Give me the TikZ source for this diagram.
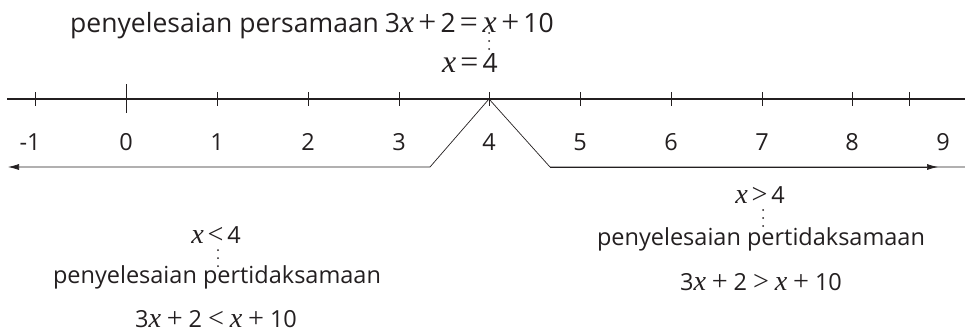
\documentclass[tikz,border=0pt]{standalone}
\usepackage{fontspec}
\setmainfont{Open Sans}
\newfontfamily\xserif[Scale=1.2]{Liberation Serif}
\newcommand{\vx}{{\xserif\itshape x}}
\newcommand{\op}[1]{\kern0.25em{\xserif #1}\kern0.25em}
\newcommand{\topop}[1]{\kern0.16em{\xserif #1}\kern0.16em}
\usetikzlibrary{arrows.meta, positioning, calc}
\definecolor{ink}{HTML}{231F20}
\tikzset{
  axis/.style={line width=1.9pt, ink},
  smalltick/.style={line width=0.6pt, ink},
  bigtick/.style={line width=1pt, ink},
  ray/.style={-{Latex[length=11pt,width=6pt]}, line width=0.7pt, ink},
  thin/.style={line width=0.7pt, ink},
  txt/.style={font=\fontsize{23.5}{28}\selectfont, text=ink, inner sep=0pt, anchor=base},
  bigtxt/.style={font=\fontsize{26.5}{32}\selectfont, text=ink, inner sep=0pt},
  num/.style={font=\fontsize{23.5}{28}\selectfont, text=ink, inner sep=0pt, anchor=base},
  dots/.style={dash pattern=on 0pt off 8pt, line cap=round, line width=2pt, ink}
}

\begin{document}
\begin{tikzpicture}[x=1pt, y=-1pt]
    \useasboundingbox (0,0) rectangle (965,333);

    % number line
    \coordinate (lineL) at (7,99);
    \coordinate (lineR) at (965,99);
    \draw[axis] (lineL) -- (lineR);
    \foreach \n/\xt/\xl in {-1/35/30, 1/217/217, 2/308/308, 3/399/399, 4/489/489,
                            5/580/580, 6/671/671, 7/762/762, 8/852/852, 9/909/943} {
        \coordinate (t\n) at (\xt,99);
        \draw[smalltick] (\xt,92) -- (\xt,106);
        \node[num] (n\n) at (\xl,150) {\n};
    }
    \coordinate (t0) at (126,99);
    \draw[bigtick] (126,84) -- (126,113);
    \node[num] (n0) at (126,150) {0};

    % solution rays
    \coordinate (kneeL) at (430,167);
    \coordinate (endL) at (8,167);
    \coordinate (kneeR) at (550,167);
    \coordinate (endR) at (938,167);
    \coordinate (edgeR) at (965,167);
    \draw[ray] (t4) -- (kneeL) -- (endL);
    \draw[thin] (t4) -- (kneeR) -- (edgeR);
    \draw[ray] (kneeR) -- (endR);

    % equation
    \node[bigtxt, anchor=base west] (pers) at (70,32) {penyelesaian persamaan\kern0.22em 3\vx\topop{+}2\topop{=}};
    \node[bigtxt, base right=0pt of pers] (xeq) {\vx};
    \node[bigtxt, base right=0pt of xeq] (rhs) {\topop{+}10};
    \node[bigtxt, anchor=base east] (sol) at (498,72) {\vx\topop{=}4};
    \coordinate (dotA) at (489,33);
    \coordinate (dotB) at (489,50);
    \draw[dots] (dotA) -- (dotB);

    % left inequality
    \node[txt] (ltx) at (216,243) {\vx\topop{<}4};
    \node[txt] (ltp) at (217,283) {penyelesaian pertidaksamaan};
    \node[txt] (lteq) at (216,327) {3\vx\op{+}2\op{<}\vx\op{+}10};
    \coordinate (ldotA) at (218,250);
    \coordinate (ldotB) at (218,267);
    \draw[dots] (ldotA) -- (ldotB);

    % right inequality
    \node[txt] (gtx) at (760,203) {\vx\topop{>}4};
    \node[txt] (gtp) at (761,245) {penyelesaian pertidaksamaan};
    \node[txt] (gteq) at (761,290) {3\vx\op{+}2\op{>}\vx\op{+}10};
    \coordinate (rdotA) at (763,210);
    \coordinate (rdotB) at (763,227);
    \draw[dots] (rdotA) -- (rdotB);
\end{tikzpicture}
\end{document}
